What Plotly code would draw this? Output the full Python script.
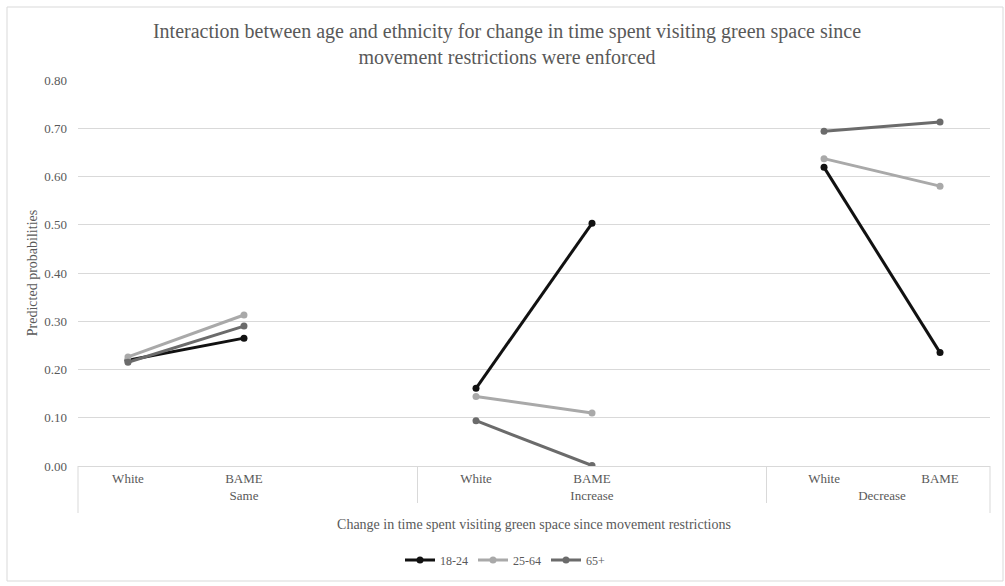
import plotly.graph_objects as go

groups = ["Same", "Same", "Same", "Increase", "Increase", "Increase", "Decrease", "Decrease"]
subs = ["White", "BAME", " ", "White", "BAME", "  ", "White", "BAME"]

series_names = ["18-24", "25-64", "65+"]
v18 = [0.219, 0.265, None, 0.161, 0.503, None, 0.619, 0.235]
v25 = [0.226, 0.313, None, 0.144, 0.110, None, 0.637, 0.580]
v65 = [0.215, 0.290, None, 0.094, 0.001, None, 0.694, 0.713]
colors = ["#111111", "#a9a9a9", "#6b6b6b"]

y_ticks = [0.0, 0.1, 0.2, 0.3, 0.4, 0.5, 0.6, 0.7, 0.8]
y_labels = ["%.2f" % v for v in y_ticks]

FONT = "Liberation Serif"
GREY = "#595959"

fig = go.Figure()
for name, vals, c in zip(series_names, [v18, v25, v65], colors):
    fig.add_trace(go.Scatter(
        x=[groups, subs], y=vals, name=name, mode="lines+markers",
        line=dict(color=c, width=3), marker=dict(color=c, size=7),
        connectgaps=False,
    ))

# plot area in px: left 78, right 990, top 80, bottom 466
L, R, T, B = 78, 990, 80, 466
W, H = R - L, B - T
def px(x):
    return (x - L) / W
def py(y):
    return (B - y) / H

fig.update_layout(
    width=1005, height=586,
    margin=dict(l=L, r=1005 - R, t=T, b=586 - B, autoexpand=False),
    paper_bgcolor="white", plot_bgcolor="white",
    font=dict(family=FONT, color=GREY, size=12),
    title=dict(
        text="Interaction between age and ethnicity for change in time spent visiting green space since<br>movement restrictions were enforced",
        x=507 / 1005, xref="container", xanchor="center", y=1 - 38 / 586, yref="container", yanchor="middle",
        font=dict(family=FONT, size=20, color=GREY),
    ),
    xaxis=dict(
        type="multicategory", automargin=False, showgrid=False, showline=True, linecolor="#d9d9d9", linewidth=1,
        showdividers=True, dividercolor="#d9d9d9", dividerwidth=1,
        ticks="",
        tickfont=dict(family=FONT, size=13, color=GREY),
        title=dict(text="Change in time spent visiting green space since movement restrictions",
                   font=dict(family=FONT, size=14, color=GREY), standoff=17),
        zeroline=False,
    ),
    yaxis=dict(
        automargin=False,
        range=[0, 0.8], tickvals=y_ticks, ticktext=y_labels, showgrid=True,
        gridcolor="#d9d9d9", gridwidth=1, zeroline=False, showline=False,
        tickfont=dict(family=FONT, size=13, color=GREY), ticklabelstandoff=10,
        title=dict(text="Predicted probabilities", font=dict(family=FONT, size=14, color=GREY), standoff=3),
    ),
    legend=dict(
        orientation="h", x=px(505), xanchor="center", y=py(560), yanchor="middle",
        font=dict(family=FONT, size=12, color=GREY), itemwidth=30, bgcolor="rgba(0,0,0,0)",
    ),
    showlegend=True,
)

# outer chart border and outer category-box edges
fig.add_shape(type="rect", xref="paper", yref="paper",
              x0=px(7), x1=px(1003), y0=py(581), y1=py(7),
              line=dict(color="#d9d9d9", width=1), fillcolor="rgba(0,0,0,0)", layer="below")
for xe in (0, 1):
    fig.add_shape(type="line", xref="paper", yref="paper", x0=xe, x1=xe, y0=0, y1=py(513),
                  line=dict(color="#d9d9d9", width=1))

fig.write_html("out.html", config={"displayModeBar": False},
               post_script="document.body.style.margin='0px';")
